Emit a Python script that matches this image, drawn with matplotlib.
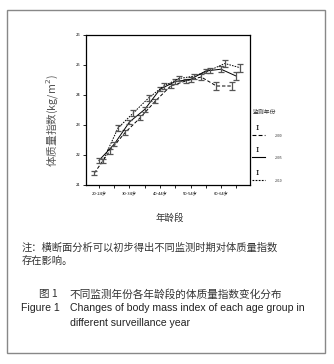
import numpy as np
import matplotlib
matplotlib.use('Agg')
import matplotlib.pyplot as plt
from matplotlib.lines import Line2D
from matplotlib.patches import Rectangle

plt.rcParams['font.family'] = ['Noto Sans CJK SC', 'DejaVu Sans']

# 年龄段（10组），只标注隔一组
age_groups = ['20-24岁', '25-29岁', '30-34岁', '35-39岁', '40-44岁',
              '45-49岁', '50-54岁', '55-59岁', '60-64岁', '65-69岁']
years = ['2000', '2005', '2010']

# 各监测年份平均BMI
bmi_2000 = [21.40, 22.13, 22.74, 23.24, 23.80, 24.30, 24.47, 24.60, 24.30, 24.30]
bmi_2005 = [21.82, 22.36, 23.10, 23.52, 24.19, 24.45, 24.52, 24.80, 24.86, 24.63]
bmi_2010 = [21.80, 22.90, 23.40, 23.90, 24.30, 24.55, 24.63, 24.82, 25.05, 24.91]

# 误差线半宽
err_2000 = [0.08, 0.08, 0.08, 0.08, 0.08, 0.08, 0.08, 0.09, 0.12, 0.13]
err_2005 = [0.07, 0.07, 0.08, 0.08, 0.07, 0.07, 0.07, 0.08, 0.10, 0.13]
err_2010 = [0.08, 0.09, 0.10, 0.09, 0.09, 0.08, 0.08, 0.09, 0.10, 0.13]

W, H = 334, 364
fig = plt.figure(figsize=(W / 100, H / 100), dpi=100)


def fx(x):
    return x / W


def fy(y):
    return 1 - y / H


ax = fig.add_axes([fx(86), fy(185), fx(250) - fx(86), fy(35) - fy(185)])

x = np.arange(len(age_groups))
series = [
    (bmi_2000, err_2000, -0.3, (0, (3.5, 2.0))),
    (bmi_2005, err_2005, 0.0, '-'),
    (bmi_2010, err_2010, 0.25, (0, (1.6, 1.2))),
]
for vals, errs, off, ls in series:
    ax.plot(x + off, vals, color='black', lw=0.7, linestyle=ls)
    ax.errorbar(x + off, vals, yerr=errs, fmt='none', ecolor='#555555',
                elinewidth=0.9, capsize=2.2, capthick=0.9)

ax.set_xlim(-0.85, 9.9)
ax.set_ylim(21, 26)
ax.set_yticks(range(21, 27))
ax.set_yticklabels([str(v) for v in range(21, 27)], fontsize=3)
ax.set_xticks(x[::2])
ax.set_xticklabels(age_groups[::2], fontsize=3)
ax.set_xticks(x[1::2], minor=True)
ax.tick_params(axis='both', which='both', direction='out', length=2,
               width=0.6, pad=2)
for s in ax.spines.values():
    s.set_linewidth(0.9)

# y 轴标题
fig.text(fx(52), fy(121), '体质量指数(kg/m$^2$)', rotation=90,
         ha='center', va='center', fontsize=7.7, color='#555555')

# 图例（监测年份）
fig.text(fx(253), fy(112), '监测年份', ha='left', va='center',
         fontsize=4.2, color='#333333')
leg_y = [135, 157, 180]
for yr, (vals, errs, off, ls), ly in zip(years, series, leg_y):
    fig.text(fx(257), fy(ly - 7), 'I', ha='center', va='center',
             fontsize=6, family='DejaVu Serif', color='black')
    fig.add_artist(Line2D([fx(252), fx(265)], [fy(ly), fy(ly)],
                          color='black', lw=0.8, linestyle=ls))
    fig.text(fx(275), fy(ly + 1), yr, ha='left', va='center',
             fontsize=2.5, color='#333333')

# 下方文字
fig.text(fx(170), fy(218), '年龄段', ha='center', va='center',
         fontsize=6.8, color='#333333')
fig.text(fx(22), fy(248), '注：横断面分析可以初步得出不同监测时期对体质量指数',
         ha='left', va='center', fontsize=7.4, color='#333333')
fig.text(fx(22), fy(261), '存在影响。', ha='left', va='center',
         fontsize=7.4, color='#333333')
fig.text(fx(39), fy(294), '图 1', ha='left', va='center',
         fontsize=7.6, color='#333333')
fig.text(fx(70), fy(294), '不同监测年份各年龄段的体质量指数变化分布',
         ha='left', va='center', fontsize=7.7, color='#333333')
fig.text(fx(21), fy(308), 'Figure 1', ha='left', va='center',
         fontsize=7.6, family='Liberation Sans', color='#222222')
fig.text(fx(70), fy(308), 'Changes of body mass index of each age group in',
         ha='left', va='center', fontsize=7.6, family='Liberation Sans',
         color='#222222')
fig.text(fx(70), fy(323), 'different surveillance year',
         ha='left', va='center', fontsize=7.6, family='Liberation Sans',
         color='#222222')

# 外框
fig.add_artist(Rectangle((fx(7), fy(353)), fx(325) - fx(7), fy(10) - fy(353),
                         fill=False, edgecolor='#888888', lw=1.0))

fig.savefig('out.png', dpi=100)
